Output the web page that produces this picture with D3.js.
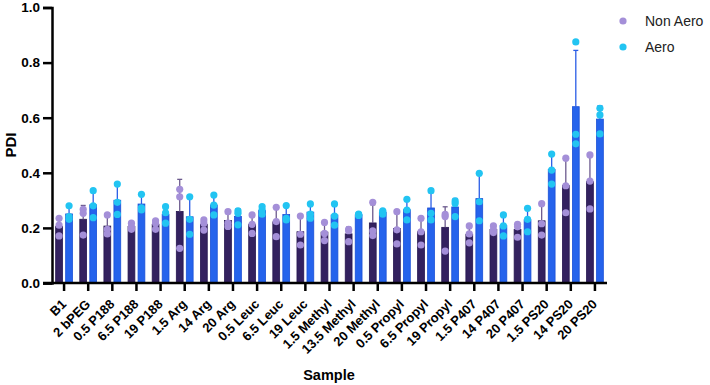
<!DOCTYPE html>
<html>
<head>
<meta charset="utf-8">
<script src="https://cdn.jsdelivr.net/npm/d3@7"></script>
<style>
  body { margin: 0; background: #fff; }
  svg { display: block; font-family: "Liberation Sans", Arial, sans-serif; }
  .axis path, .axis line { stroke: #000; stroke-width: 2.5px; }
  .axis text { font-weight: bold; font-size: 13px; fill: #000; }
  .label { font-weight: bold; font-size: 14.5px; }
</style>
</head>
<body>
<svg width="710" height="385"></svg>
<script>
// **** Data ****

var samples = ['B1', '2 bPEG', '0.5 P188', '6.5 P188', '19 P188', '1.5 Arg', '14 Arg', '20 Arg',
    '0.5 Leuc', '6.5 Leuc', '19 Leuc', '1.5 Methyl', '13.5 Methyl', '20 Methyl',
    '0.5 Propyl', '6.5 Propyl', '19 Propyl', '1.5 P407', '14 P407', '20 P407',
    '1.5 PS20', '14 PS20', '20 PS20'];

var nonAero = [
    [0.235, 0.21, 0.171], [0.267, 0.253, 0.174], [0.247, 0.195, 0.178], [0.217, 0.204, 0.195],
    [0.226, 0.217, 0.195], [0.34, 0.313, 0.126], [0.229, 0.217, 0.192], [0.259, 0.217, 0.205],
    [0.247, 0.213, 0.18], [0.275, 0.223, 0.168], [0.243, 0.177, 0.138], [0.22, 0.18, 0.154],
    [0.195, 0.19, 0.15], [0.293, 0.189, 0.172], [0.259, 0.193, 0.142], [0.235, 0.186, 0.138],
    [0.249, 0.241, 0.116], [0.207, 0.178, 0.146], [0.207, 0.192, 0.183], [0.213, 0.204, 0.166],
    [0.288, 0.215, 0.174], [0.453, 0.353, 0.255], [0.465, 0.37, 0.269]
];

var aero = [
    [0.28, 0.241, 0.231], [0.335, 0.28, 0.237], [0.359, 0.293, 0.249], [0.322, 0.273, 0.265],
    [0.277, 0.255, 0.217], [0.313, 0.231, 0.177], [0.319, 0.283, 0.247], [0.262, 0.253, 0.211],
    [0.277, 0.265, 0.25], [0.281, 0.235, 0.229], [0.287, 0.25, 0.235], [0.287, 0.243, 0.21],
    [0.25, 0.248, 0.245], [0.262, 0.258, 0.25], [0.304, 0.265, 0.229], [0.335, 0.253, 0.229],
    [0.298, 0.289, 0.241], [0.398, 0.295, 0.226], [0.247, 0.207, 0.171], [0.271, 0.231, 0.186],
    [0.468, 0.41, 0.359], [0.875, 0.54, 0.505], [0.634, 0.61, 0.541]
];

var yTicks = [0, 0.2, 0.4, 0.6, 0.8, 1.0];

var seriesNames = ['Non Aero', 'Aero'];

// **** Scales and axes ****

var svg = d3.select('svg');

var xScale = d3.scaleBand()
    .domain(samples).range([52, 607]);

var yScale = d3.scaleLinear()
    .domain([0, 1]).range([283, 7.5]);

var series = [
    {name: seriesNames[0], values: nonAero, offset: -5, bar: '#33215f', barEdge: '#261650', dot: '#a48fd8', err: '#6c5a8e'},
    {name: seriesNames[1], values: aero, offset: 5, bar: '#2563ec', barEdge: '#1a50d6', dot: '#22c4f2', err: '#2a5de6'}
];

var barWidth = 6.8;

series.forEach(function(s){
    var g = svg.append('g');
    s.values.forEach(function(pts, i){
        var cx = xScale(samples[i]) + xScale.bandwidth() / 2 + s.offset;
        var m = d3.mean(pts);
        var sd = d3.deviation(pts);

        g.append('rect')
            .attr('x', cx - barWidth / 2)
            .attr('y', yScale(m))
            .attr('width', barWidth)
            .attr('height', yScale(0) - yScale(m))
            .style('fill', s.bar)
            .style('stroke', s.barEdge)
            .style('stroke-width', 0.8);

        // error bar, upward only
        g.append('line')
            .attr('x1', cx).attr('x2', cx)
            .attr('y1', yScale(m)).attr('y2', yScale(m + sd))
            .style('stroke', s.err).style('stroke-width', 1.3);
        g.append('line')
            .attr('x1', cx - 2.5).attr('x2', cx + 2.5)
            .attr('y1', yScale(m + sd)).attr('y2', yScale(m + sd))
            .style('stroke', s.err).style('stroke-width', 1.3);
    });
});

// points on top
series.forEach(function(s){
    s.values.forEach(function(pts, i){
        var cx = xScale(samples[i]) + xScale.bandwidth() / 2 + s.offset;
        pts.forEach(function(v){
            svg.append('circle')
                .attr('cx', cx)
                .attr('cy', yScale(v))
                .attr('r', 3.6)
                .style('fill', s.dot);
        });
    });
});

svg.append('g').attr('class', 'y axis')
    .attr('transform', 'translate(52,0)')
    .call(d3.axisLeft(yScale).tickValues(yTicks).tickFormat(d3.format('.1f')).tickSizeOuter(0).tickSize(9).tickPadding(3))
    .selectAll('text').style('font-size', '13.5px');

var xAxis = svg.append('g').attr('class', 'x axis')
    .attr('transform', 'translate(0,283)')
    .call(d3.axisBottom(xScale).tickSizeOuter(0).tickSize(8));

xAxis.select('.domain').attr('d', 'M43,0H607');

xAxis.selectAll('text')
    .style('font-size', '13px')
    .attr('text-anchor', 'end')
    .attr('dy', 0)
    .attr('y', 0)
    .attr('transform', 'translate(3,22) rotate(-45)');

svg.append('text')
    .text('PDI')
    .attr('class', 'label')
    .style('font-size', '15px')
    .attr('text-anchor', 'middle')
    .attr('transform', 'translate(16,145) rotate(-90)');

svg.append('text')
    .text('Sample')
    .attr('class', 'label')
    .attr('text-anchor', 'middle')
    .attr('transform', 'translate(329,380)');

// **** Legend ****
var legend = svg.append('g');
series.forEach(function(s, i){
    var lg = legend.append('g').attr('transform', 'translate(623,' + (21 + i * 26) + ')');
    lg.append('circle').attr('r', 3.6).style('fill', s.dot);
    lg.append('text').text(s.name)
        .attr('x', 22).attr('y', 5)
        .style('font-size', '14px')
        .style('fill', '#222');
});
</script>
</body>
</html>
